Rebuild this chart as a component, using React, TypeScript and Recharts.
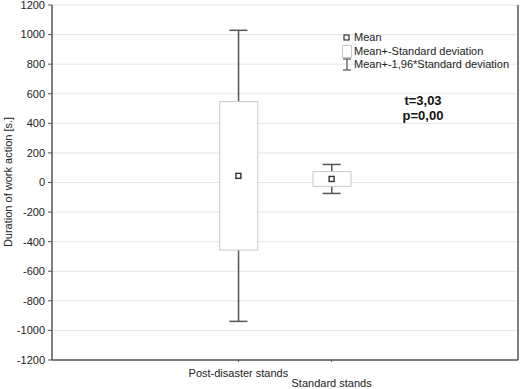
import {
  Bar,
  CartesianGrid,
  ComposedChart,
  Scatter,
  XAxis,
  YAxis,
} from 'recharts';

const FONT = '"Liberation Sans", Arial, sans-serif';
const AXIS = '#555';
const GRID = '#e6e6e6';
const BOX = '#c8c8c8';

// groups and their summary statistics
const groups = ['Post-disaster stands', 'Standard stands'];
const groupPos = [2, 3];
const means = [45, 24];
const sds = [502, 50];
const yTicks = [-1200, -1000, -800, -600, -400, -200, 0, 200, 400, 600, 800, 1000, 1200];

const data = groups.map((name, i) => ({
  name,
  pos: groupPos[i],
  mean: means[i],
  box: [means[i] - sds[i], means[i] + sds[i]],
  whisker: [means[i] - 1.96 * sds[i], means[i] + 1.96 * sds[i]],
  lo: means[i] - 1.96 * sds[i],
  hi: means[i] + 1.96 * sds[i],
}));

function MeanMarker(props: any) {
  const { cx, cy } = props;
  if (cx == null || cy == null) return null;
  return <rect x={cx - 2.5} y={cy - 2.5} width={5} height={5} fill="#fff" stroke="#333" strokeWidth={1.4} />;
}

function Cap(props: any) {
  const { cx, cy } = props;
  if (cx == null || cy == null) return null;
  return <line x1={cx - 9} x2={cx + 9} y1={cy} y2={cy} stroke={AXIS} strokeWidth={1.5} />;
}

function GroupTick(props: any) {
  const { x, y, payload, index } = props;
  const i = groupPos.indexOf(payload.value);
  return (
    <text
      x={x}
      y={y + (index === 1 ? 23 : 13)}
      textAnchor="middle"
      fontSize={11}
      fontFamily={FONT}
      fill="#222"
    >
      {groups[i]}
    </text>
  );
}

function YTitle() {
  return (
    <text
      x={8}
      y={182}
      transform="rotate(-90 8 182)"
      textAnchor="middle"
      dominantBaseline="central"
      fontSize={11}
      fontFamily={FONT}
      fill="#222"
    >
      Duration of work action [s.]
    </text>
  );
}

export default function App() {
  return (
    <div style={{ position: 'absolute', left: 0, top: 0, width: 520, height: 389, background: '#fff' }}>
      <ComposedChart
        width={520}
        height={389}
        data={data}
        margin={{ top: 5, right: 1, bottom: 0, left: 0 }}
      >
        <CartesianGrid stroke={GRID} vertical={false} />
        <XAxis
          dataKey="pos"
          type="number"
          domain={[0, 5]}
          ticks={groupPos}
          interval={0}
          height={29}
          tick={<GroupTick />}
          tickLine={{ stroke: AXIS }}
          tickSize={2}
          axisLine={{ stroke: AXIS, strokeWidth: 1.5 }}
        />
        <XAxis xAxisId="w" dataKey="pos" type="number" domain={[0, 5]} hide />
        <YAxis
          type="number"
          domain={[-1200, 1200]}
          ticks={yTicks}
          interval={0}
          width={52}
          tickSize={4}
          tickMargin={3}
          tick={{ fontSize: 11, fontFamily: FONT, fill: '#222' }}
          tickLine={{ stroke: AXIS }}
          axisLine={{ stroke: AXIS, strokeWidth: 1.5 }}
          label={{ content: () => <YTitle /> }}
        />
        <YAxis
          yAxisId="right"
          orientation="right"
          domain={[-1200, 1200]}
          width={1}
          tick={false}
          tickLine={false}
          axisLine={{ stroke: AXIS, strokeWidth: 1.5 }}
        />
        <Bar xAxisId="w" dataKey="whisker" barSize={1.5} fill={AXIS} isAnimationActive={false} />
        <Bar
          dataKey="box"
          barSize={38}
          fill="#fff"
          stroke={BOX}
          strokeWidth={1}
          isAnimationActive={false}
        />
        <Scatter dataKey="hi" shape={<Cap />} isAnimationActive={false} />
        <Scatter dataKey="lo" shape={<Cap />} isAnimationActive={false} />
        <Scatter dataKey="mean" shape={<MeanMarker />} isAnimationActive={false} />
      </ComposedChart>

      <div style={{ position: 'absolute', left: 341, top: 31, fontFamily: FONT, fontSize: 11, color: '#222', lineHeight: '13.5px' }}>
        <div style={{ display: 'flex', alignItems: 'center' }}>
          <svg width={12} height={13}>
            <rect x={3} y={4} width={5} height={5} fill="#fff" stroke="#333" strokeWidth={1.2} />
          </svg>
          <span style={{ marginLeft: 1 }}>Mean</span>
        </div>
        <div style={{ display: 'flex', alignItems: 'center' }}>
          <svg width={12} height={13}>
            <rect x={1.5} y={0.5} width={9} height={12} fill="#fff" stroke={BOX} />
          </svg>
          <span style={{ marginLeft: 1 }}>Mean+-Standard deviation</span>
        </div>
        <div style={{ display: 'flex', alignItems: 'center' }}>
          <svg width={12} height={13}>
            <line x1={2} x2={10} y1={1} y2={1} stroke={AXIS} strokeWidth={1.2} />
            <line x1={6} x2={6} y1={1} y2={12} stroke={AXIS} strokeWidth={1.2} />
            <line x1={2} x2={10} y1={12} y2={12} stroke={AXIS} strokeWidth={1.2} />
          </svg>
          <span style={{ marginLeft: 1 }}>Mean+-1,96*Standard deviation</span>
        </div>
      </div>

      <div
        style={{
          position: 'absolute',
          left: 383,
          top: 93,
          width: 80,
          textAlign: 'center',
          fontFamily: FONT,
          fontSize: 13,
          fontWeight: 'bold',
          color: '#111',
          lineHeight: '15px',
        }}
      >
        <div>t=3,03</div>
        <div>p=0,00</div>
      </div>
    </div>
  );
}
